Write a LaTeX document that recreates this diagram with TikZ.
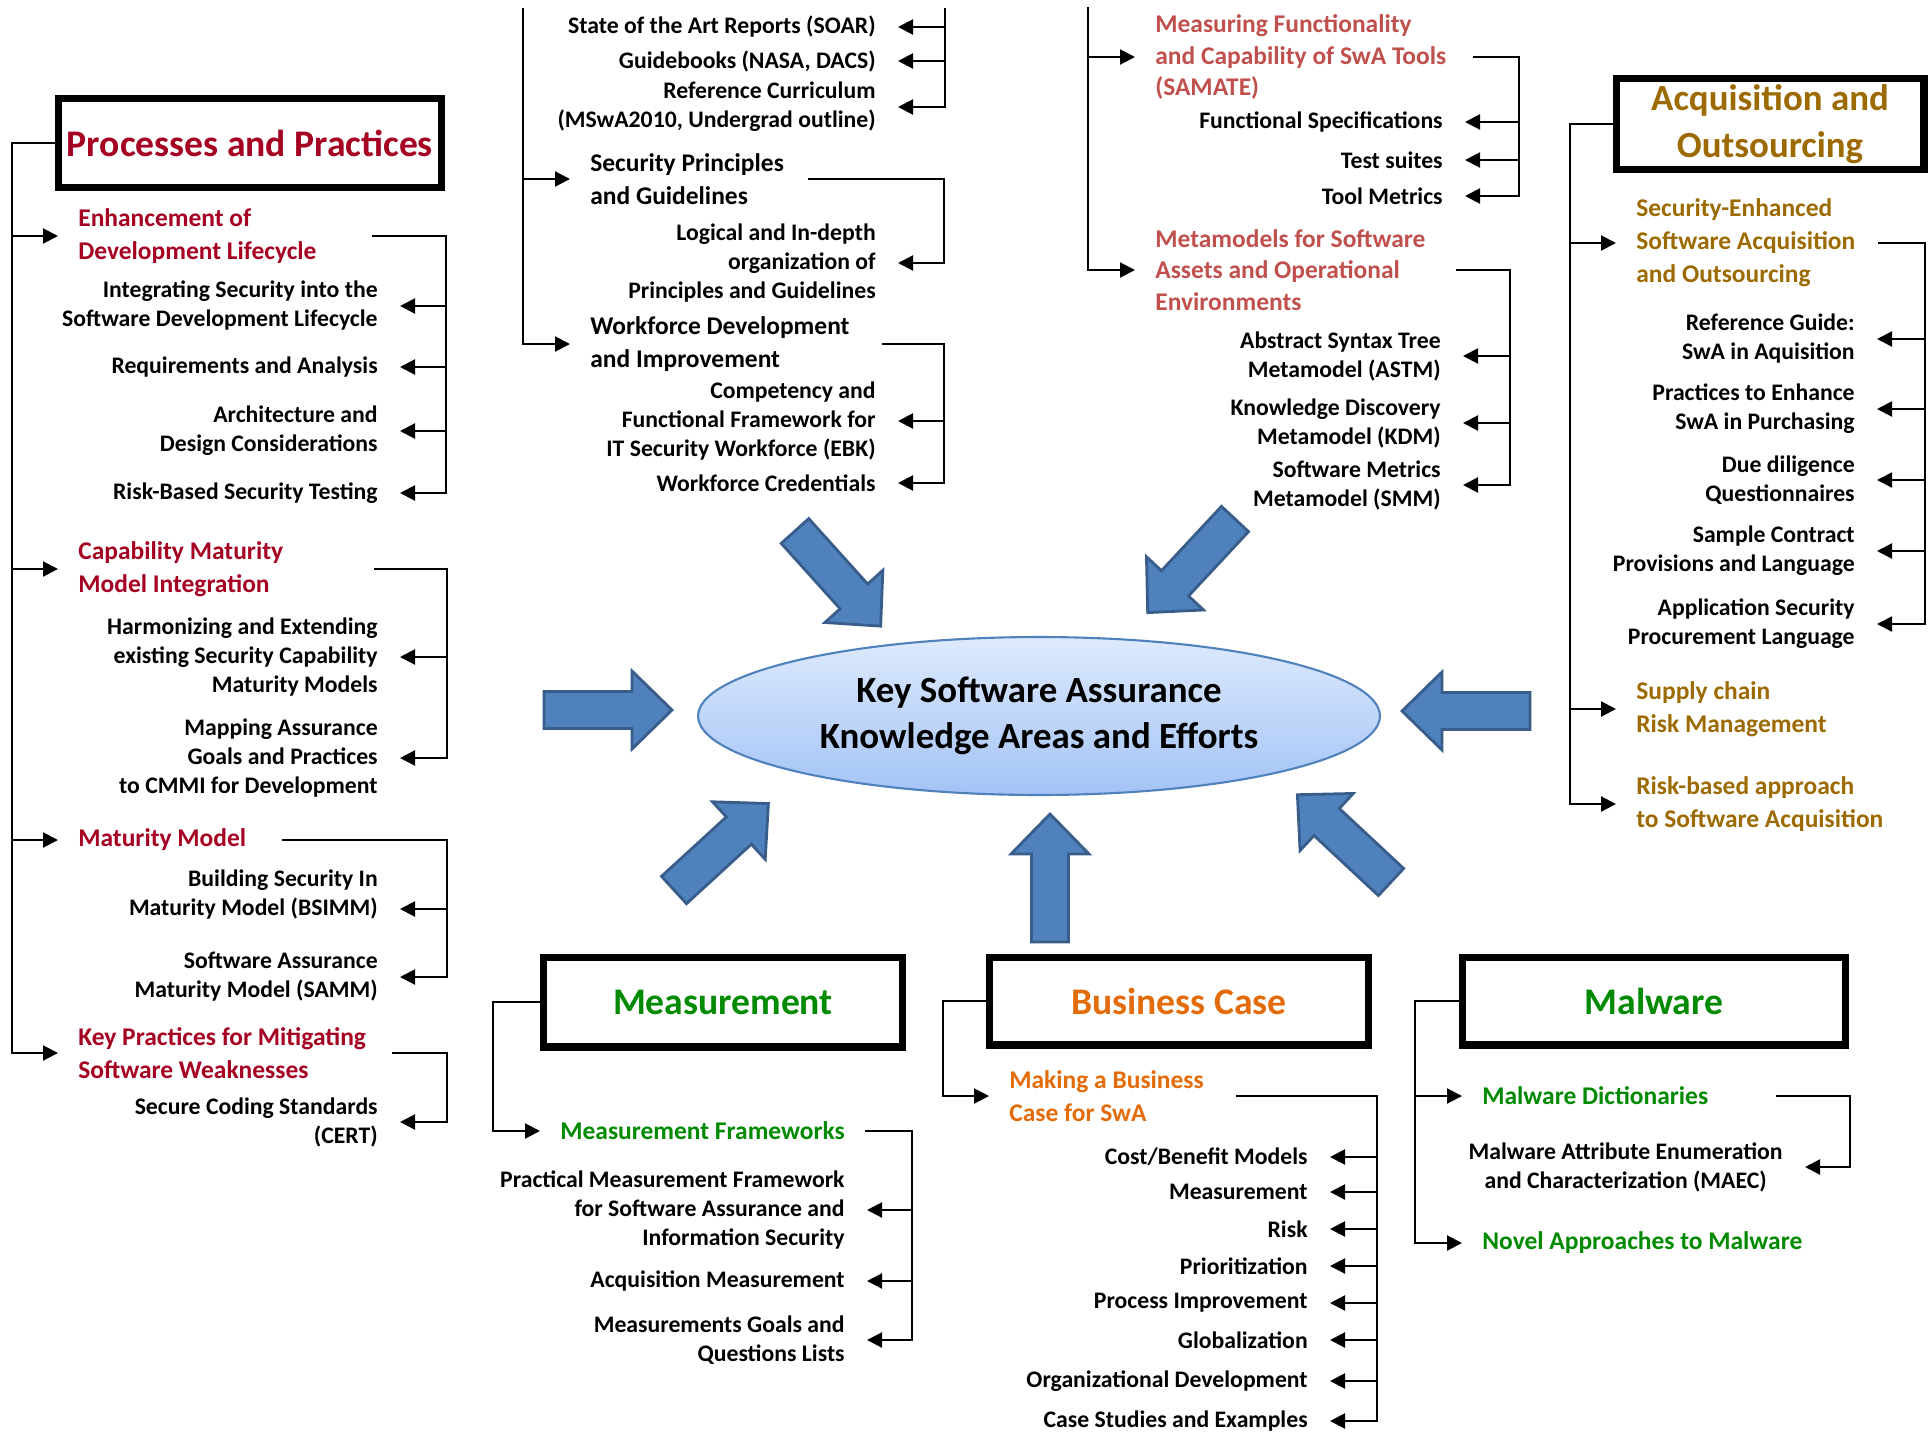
\documentclass[tikz,border=0pt]{standalone}
\usepackage{fontspec}
\setmainfont{Carlito}
\usepackage{xcolor}
\definecolor{PracRed}{HTML}{A50021}
\definecolor{ToolRed}{HTML}{C0504D}
\definecolor{AcqGold}{HTML}{9C6A00}
\definecolor{MeasGreen}{HTML}{008A00}
\definecolor{CaseOrange}{HTML}{E36C09}
\definecolor{ArrowBlue}{HTML}{4F81BD}
\definecolor{ArrowEdge}{HTML}{385D8A}
\definecolor{CoreTop}{HTML}{DEEAFD}
\definecolor{CoreBottom}{HTML}{A3C3F6}
\usepackage{tikz}
\usetikzlibrary{arrows.meta,shapes.geometric}

\tikzset{
  link/.style={line width=1.2pt},
  arr/.style={line width=1.2pt,-{Triangle[length=0.3cm,width=0.3cm]}},
  areabox/.style={draw,line width=4pt,minimum width=7.6cm,minimum height=1.78cm,align=center,
    font=\fontsize{21.4}{26}\selectfont\bfseries},
  topic/.style={anchor=west,inner xsep=0.4cm,inner ysep=1pt,align=left,
    font=\fontsize{14.5}{18.8}\selectfont\bfseries},
  item/.style={anchor=east,inner xsep=0.44cm,inner ysep=1pt,align=right,
    font=\fontsize{13.5}{16.5}\selectfont\bfseries},
  core/.style={ellipse,draw=ArrowBlue,line width=1.2pt,top color=CoreTop,bottom color=CoreBottom,
    minimum width=13.64cm,minimum height=3.16cm,inner sep=0pt,align=center,
    font=\fontsize{21}{26.5}\selectfont\bfseries},
  blockarrow/.style={fill=ArrowBlue,draw=ArrowEdge,line width=1.6pt,line join=miter}
}

\begin{document}
\begin{tikzpicture}[x=0.02cm,y=-0.02cm]
    \useasboundingbox (0,0) rectangle (1928,1431);

    % centre
    \node[core] (core) at (1039,716) {Key Software Assurance\\Knowledge Areas and Efforts};
    \draw[blockarrow,shift={(795,531)},rotate=-48] (0,-18.5) -- (88,-18.5) -- (88,-39) -- (128,0) -- (88,39) -- (88,18.5) -- (0,18.5) -- cycle;
    \draw[blockarrow,shift={(1235,519)},rotate=-133] (0,-18.5) -- (88,-18.5) -- (88,-39) -- (128,0) -- (88,39) -- (88,18.5) -- (0,18.5) -- cycle;
    \draw[blockarrow,shift={(544,710)},rotate=0] (0,-18.5) -- (88,-18.5) -- (88,-39) -- (128,0) -- (88,39) -- (88,18.5) -- (0,18.5) -- cycle;
    \draw[blockarrow,shift={(1530,711)},rotate=180] (0,-18.5) -- (88,-18.5) -- (88,-39) -- (128,0) -- (88,39) -- (88,18.5) -- (0,18.5) -- cycle;
    \draw[blockarrow,shift={(674,890)},rotate=42.5] (0,-18.5) -- (88,-18.5) -- (88,-39) -- (128,0) -- (88,39) -- (88,18.5) -- (0,18.5) -- cycle;
    \draw[blockarrow,shift={(1050,942)},rotate=90] (0,-18.5) -- (88,-18.5) -- (88,-39) -- (128,0) -- (88,39) -- (88,18.5) -- (0,18.5) -- cycle;
    \draw[blockarrow,shift={(1391,882)},rotate=137] (0,-18.5) -- (88,-18.5) -- (88,-39) -- (128,0) -- (88,39) -- (88,18.5) -- (0,18.5) -- cycle;

    % Processes and Practices
    \node[areabox,text=PracRed,minimum width=7.66cm] (pp) at (250,143) {Processes and Practices};
    \node[topic,text=PracRed] (enh) at (58,236) {Enhancement of\\Development Lifecycle};
    \node[item] (i11) at (400,306) {Integrating Security into the\\Software Development Lifecycle};
    \node[item] (i12) at (400,367) {Requirements and Analysis};
    \node[item] (i13) at (400,431) {Architecture and\\Design Considerations};
    \node[item] (i14) at (400,493) {Risk-Based Security Testing};
    \node[topic,text=PracRed] (cmmi) at (58,569) {Capability Maturity\\Model Integration};
    \node[item] (i21) at (400,657) {Harmonizing and Extending\\existing Security Capability\\Maturity Models};
    \node[item] (i22) at (400,758) {Mapping Assurance\\Goals and Practices\\to CMMI for Development};
    \node[topic,text=PracRed] (matm) at (58,840) {Maturity Model};
    \node[item] (i31) at (400,895) {Building Security In\\Maturity Model (BSIMM)};
    \node[item] (i32) at (400,977) {Software Assurance\\Maturity Model (SAMM)};
    \node[topic,text=PracRed] (keyp) at (58,1053) {Key Practices for Mitigating\\Software Weaknesses};
    \node[item] (i41) at (400,1122) {Secure Coding Standards\\(CERT)};

    \coordinate (ppRail) at (12,143);
    \draw[arr] (pp.west) -- (ppRail) |- (keyp.west);
    \draw[arr] (ppRail |- enh.west) -- (enh.west);
    \draw[arr] (ppRail |- cmmi.west) -- (cmmi.west);
    \draw[arr] (ppRail |- matm.west) -- (matm.west);
    \coordinate (enhOut) at (372,236);
    \coordinate (enhRail) at (446,236);
    \draw[arr] (enhOut) -- (enhRail) |- (i14.east);
    \draw[arr] (enhRail |- i11.east) -- (i11.east);
    \draw[arr] (enhRail |- i12.east) -- (i12.east);
    \draw[arr] (enhRail |- i13.east) -- (i13.east);
    \coordinate (cmmiOut) at (374,569);
    \coordinate (cmmiRail) at (447,569);
    \draw[arr] (cmmiOut) -- (cmmiRail) |- (i22.east);
    \draw[arr] (cmmiRail |- i21.east) -- (i21.east);
    \coordinate (matmOut) at (282,840);
    \coordinate (matmRail) at (447,840);
    \coordinate (i31in) at ([yshift=-0.28cm]i31.east);
    \draw[arr] (matmOut) -- (matmRail) |- (i32.east);
    \draw[arr] (matmRail |- i31in) -- (i31in);
    \coordinate (keypOut) at (392,1053);
    \coordinate (keypRail) at (447,1053);
    \draw[arr] (keypOut) -- (keypRail) |- (i41.east);

    % guidance and workforce
    \node[item] (s1) at (898,27) {State of the Art Reports (SOAR)};
    \node[item] (s2) at (898,61) {Guidebooks (NASA, DACS)};
    \node[item] (s3) at (898,107) {Reference Curriculum\\(MSwA2010, Undergrad outline)};
    \node[topic] (spg) at (570,179) {Security Principles\\and Guidelines};
    \node[item] (p1) at (898,263) {Logical and In-depth\\organization of\\Principles and Guidelines};
    \node[topic] (wdi) at (570,344) {Workforce Development\\and Improvement};
    \node[item] (w1) at (898,421) {Competency and\\Functional Framework for\\IT Security Workforce (EBK)};
    \node[item] (w2) at (898,483) {Workforce Credentials};

    \coordinate (soarTop) at (945,8);
    \draw[arr] (soarTop) |- (s3.east);
    \draw[arr] (soarTop |- s1.east) -- (s1.east);
    \draw[arr] (soarTop |- s2.east) -- (s2.east);
    \coordinate (guideTop) at (523,8);
    \draw[arr] (guideTop) |- (wdi.west);
    \draw[arr] (guideTop |- spg.west) -- (spg.west);
    \coordinate (spgOut) at (808,179);
    \coordinate (spgRail) at (944,179);
    \draw[arr] (spgOut) -- (spgRail) |- (p1.east);
    \coordinate (wdiOut) at (882,344);
    \coordinate (wdiRail) at (944,344);
    \draw[arr] (wdiOut) -- (wdiRail) |- (w2.east);
    \draw[arr] (wdiRail |- w1.east) -- (w1.east);

    % tools and metamodels
    \node[topic,text=ToolRed,font=\fontsize{14.5}{18}\selectfont\bfseries] (samate) at (1135,57) {Measuring Functionality\\and Capability of SwA Tools\\(SAMATE)};
    \node[item] (f1) at (1465,122) {Functional Specifications};
    \node[item] (f2) at (1465,160) {Test suites};
    \node[item] (f3) at (1465,196) {Tool Metrics};
    \node[topic,text=ToolRed,font=\fontsize{14.5}{18}\selectfont\bfseries] (meta) at (1135,270) {Metamodels for Software\\Assets and Operational\\Environments};
    \node[item] (m1) at (1463,356) {Abstract Syntax Tree\\Metamodel (ASTM)};
    \node[item] (m2) at (1463,423) {Knowledge Discovery\\Metamodel (KDM)};
    \node[item] (m3) at (1463,485) {Software Metrics\\Metamodel (SMM)};

    \coordinate (toolTop) at (1088,7);
    \draw[arr] (toolTop) |- (meta.west);
    \draw[arr] (toolTop |- samate.west) -- (samate.west);
    \coordinate (samOut) at (1473,57);
    \coordinate (samRail) at (1519,57);
    \draw[arr] (samOut) -- (samRail) |- (f3.east);
    \draw[arr] (samRail |- f1.east) -- (f1.east);
    \draw[arr] (samRail |- f2.east) -- (f2.east);
    \coordinate (metaOut) at (1456,270);
    \coordinate (metaRail) at (1510,270);
    \draw[arr] (metaOut) -- (metaRail) |- (m3.east);
    \draw[arr] (metaRail |- m1.east) -- (m1.east);
    \draw[arr] (metaRail |- m2.east) -- (m2.east);

    % Acquisition and Outsourcing
    \node[areabox,text=AcqGold,minimum width=6.16cm,minimum height=1.74cm,font=\fontsize{21}{27}\selectfont\bfseries] (acq) at (1770,124) {Acquisition and\\Outsourcing};
    \node[topic,text=AcqGold] (seso) at (1616,243) {Security-Enhanced\\Software Acquisition\\and Outsourcing};
    \node[item] (a1) at (1877,339) {Reference Guide:\\SwA in Aquisition};
    \node[item] (a2) at (1877,409) {Practices to Enhance\\SwA in Purchasing};
    \node[item] (a3) at (1877,480) {Due diligence\\Questionnaires};
    \node[item] (a4) at (1877,551) {Sample Contract\\Provisions and Language};
    \node[item] (a5) at (1877,624) {Application Security\\Procurement Language};
    \node[topic,text=AcqGold] (scrm) at (1616,709) {Supply chain\\Risk Management};
    \node[topic,text=AcqGold] (rba) at (1616,804) {Risk-based approach\\to Software Acquisition};

    \coordinate (acqRail) at (1570,124);
    \draw[arr] (acq.west) -- (acqRail) |- (rba.west);
    \draw[arr] (acqRail |- seso.west) -- (seso.west);
    \draw[arr] (acqRail |- scrm.west) -- (scrm.west);
    \coordinate (sesoOut) at (1878,243);
    \coordinate (sesoRail) at (1925,243);
    \draw[arr] (sesoOut) -- (sesoRail) |- (a5.east);
    \draw[arr] (sesoRail |- a1.east) -- (a1.east);
    \draw[arr] (sesoRail |- a2.east) -- (a2.east);
    \draw[arr] (sesoRail |- a3.east) -- (a3.east);
    \draw[arr] (sesoRail |- a4.east) -- (a4.east);

    % Measurement
    \node[areabox,text=MeasGreen,minimum width=7.2cm,minimum height=1.8cm] (meas) at (723,1002) {Measurement};
    \node[topic,text=MeasGreen] (mfw) at (540,1131) {Measurement Frameworks};
    \node[item] (mm1) at (867,1210) {Practical Measurement Framework\\for Software Assurance and\\Information Security};
    \node[item] (mm2) at (867,1281) {Acquisition Measurement};
    \node[item] (mm3) at (867,1340) {Measurements Goals and\\Questions Lists};

    \coordinate (measRail) at (493,1002);
    \draw[arr] (meas.west) -- (measRail) |- (mfw.west);
    \coordinate (mfwOut) at (865,1131);
    \coordinate (mfwRail) at (912,1131);
    \draw[arr] (mfwOut) -- (mfwRail) |- (mm3.east);
    \draw[arr] (mfwRail |- mm1.east) -- (mm1.east);
    \draw[arr] (mfwRail |- mm2.east) -- (mm2.east);

    % Business Case
    \node[areabox,text=CaseOrange,minimum width=7.58cm,minimum height=1.76cm] (biz) at (1179,1001) {Business Case};
    \node[topic,text=CaseOrange] (mbc) at (989,1096) {Making a Business\\Case for SwA};
    \node[item] (b1) at (1330,1157) {Cost/Benefit Models};
    \node[item] (b2) at (1330,1192) {Measurement};
    \node[item] (b3) at (1330,1229) {Risk};
    \node[item] (b4) at (1330,1266) {Prioritization};
    \node[item] (b5) at (1330,1303) {Process Improvement};
    \node[item] (b6) at (1330,1340) {Globalization};
    \node[item] (b7) at (1330,1381) {Organizational Development};
    \node[item] (b8) at (1330,1421) {Case Studies and Examples};

    \coordinate (bizRail) at (943,1001);
    \draw[arr] (biz.west) -- (bizRail) |- (mbc.west);
    \coordinate (mbcOut) at (1236,1096);
    \coordinate (mbcRail) at (1377,1096);
    \draw[arr] (mbcOut) -- (mbcRail) |- (b8.east);
    \draw[arr] (mbcRail |- b1.east) -- (b1.east);
    \draw[arr] (mbcRail |- b2.east) -- (b2.east);
    \draw[arr] (mbcRail |- b3.east) -- (b3.east);
    \draw[arr] (mbcRail |- b4.east) -- (b4.east);
    \draw[arr] (mbcRail |- b5.east) -- (b5.east);
    \draw[arr] (mbcRail |- b6.east) -- (b6.east);
    \draw[arr] (mbcRail |- b7.east) -- (b7.east);

    % Malware
    \node[areabox,text=MeasGreen,minimum width=7.66cm,minimum height=1.76cm] (mal) at (1654,1001) {Malware};
    \node[topic,text=MeasGreen] (mdict) at (1462,1096) {Malware Dictionaries};
    \node[item,align=center] (maec) at (1805,1167) {Malware Attribute Enumeration\\and Characterization (MAEC)};
    \node[topic,text=MeasGreen] (novel) at (1462,1243) {Novel Approaches to Malware};

    \coordinate (malRail) at (1415,1001);
    \draw[arr] (mal.west) -- (malRail) |- (novel.west);
    \draw[arr] (malRail |- mdict.west) -- (mdict.west);
    \coordinate (mdOut) at (1776,1096);
    \coordinate (mdRail) at (1850,1096);
    \draw[arr] (mdOut) -- (mdRail) |- (maec.east);
\end{tikzpicture}
\end{document}
